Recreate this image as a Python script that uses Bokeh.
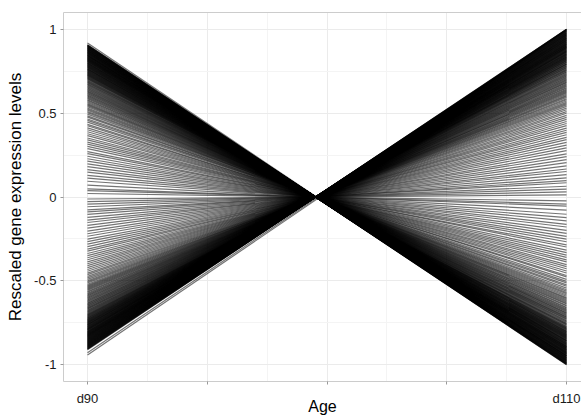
from bokeh.plotting import figure
from bokeh.models import FixedTicker, Range1d, LinearAxis
from bokeh.embed import file_html
from bokeh.resources import INLINE

# Age points (x positions) and axis ticks
age_values = [90, 110]
x_ticks = [90, 95, 100, 105, 110]
x_tick_labels = ["d90", "", "", "", "d110"]
y_ticks = [-1, -0.5, 0, 0.5, 1]
y_tick_labels = ["-1", "-0.5", "0", "0.5", "1"]

# Genes that decrease from d90 to d110 (positive at d90)
down_d90 = [0.918, 0.908, 0.906, 0.905, 0.903, 0.901, 0.899, 0.897, 0.896, 0.894, 0.892, 0.890, 0.888, 0.886, 0.885,
            0.883, 0.881, 0.879, 0.877, 0.875, 0.873, 0.872, 0.870, 0.868, 0.866, 0.864, 0.862, 0.861, 0.859,
            0.857, 0.855, 0.853, 0.851, 0.849, 0.847, 0.845, 0.844, 0.842, 0.840, 0.838, 0.836, 0.834, 0.832,
            0.830, 0.828, 0.826, 0.824, 0.822, 0.820, 0.818, 0.816, 0.814, 0.812, 0.810, 0.808, 0.806, 0.804,
            0.801, 0.799, 0.797, 0.795, 0.793, 0.790, 0.788, 0.786, 0.784, 0.781, 0.779, 0.777, 0.775, 0.772,
            0.770, 0.767, 0.765, 0.763, 0.760, 0.758, 0.755, 0.753, 0.750, 0.747, 0.745, 0.742, 0.739, 0.737,
            0.734, 0.731, 0.728, 0.726, 0.723, 0.720, 0.717, 0.714, 0.711, 0.708, 0.705, 0.702,
            0.697, 0.693, 0.689, 0.685, 0.681, 0.676, 0.672, 0.668, 0.663, 0.659, 0.654, 0.650, 0.645, 0.641,
            0.636, 0.631, 0.627, 0.622, 0.617, 0.612, 0.607, 0.602, 0.597, 0.591, 0.586, 0.580, 0.575, 0.569,
            0.563, 0.557, 0.551, 0.545, 0.538, 0.531, 0.524, 0.517, 0.510, 0.503,
            0.494, 0.484, 0.476, 0.465, 0.457, 0.446, 0.433, 0.425, 0.412, 0.401, 0.389, 0.377, 0.366, 0.352,
            0.341, 0.327, 0.315, 0.302, 0.288, 0.271, 0.259, 0.243, 0.228, 0.214, 0.197, 0.181, 0.163, 0.148,
            0.129, 0.112, 0.094, 0.071, 0.049, 0.038, 0.021]
down_d110 = [-1.000, -0.999, -0.997, -0.996, -0.993, -0.991, -0.989, -0.987, -0.986, -0.983, -0.981, -0.979, -0.977, -0.975, -0.974,
             -0.971, -0.969, -0.967, -0.965, -0.963, -0.960, -0.959, -0.957, -0.955, -0.953, -0.950, -0.948, -0.947, -0.945,
             -0.943, -0.941, -0.938, -0.936, -0.934, -0.932, -0.930, -0.928, -0.926, -0.924, -0.922, -0.920, -0.917, -0.915,
             -0.913, -0.911, -0.909, -0.906, -0.904, -0.902, -0.900, -0.898, -0.895, -0.893, -0.891, -0.889, -0.887, -0.884,
             -0.881, -0.879, -0.877, -0.875, -0.872, -0.869, -0.867, -0.865, -0.862, -0.859, -0.857, -0.855, -0.853, -0.849,
             -0.847, -0.844, -0.842, -0.839, -0.836, -0.834, -0.831, -0.828, -0.825, -0.822, -0.820, -0.816, -0.813, -0.811,
             -0.807, -0.804, -0.801, -0.799, -0.795, -0.792, -0.789, -0.785, -0.782, -0.779, -0.776, -0.772,
             -0.767, -0.762, -0.758, -0.754, -0.749, -0.744, -0.739, -0.735, -0.729, -0.725, -0.719, -0.715, -0.710, -0.705,
             -0.700, -0.694, -0.690, -0.684, -0.679, -0.673, -0.668, -0.662, -0.657, -0.650, -0.645, -0.638, -0.633, -0.626,
             -0.619, -0.613, -0.606, -0.600, -0.592, -0.584, -0.576, -0.569, -0.561, -0.553,
             -0.543, -0.532, -0.524, -0.512, -0.503, -0.491, -0.476, -0.468, -0.453, -0.441, -0.428, -0.415, -0.403, -0.387,
             -0.375, -0.360, -0.347, -0.332, -0.317, -0.298, -0.285, -0.267, -0.251, -0.235, -0.217, -0.199, -0.179, -0.163,
             -0.142, -0.123, -0.103, -0.078, -0.054, -0.042, -0.023]

# Genes that increase from d90 to d110 (negative at d90)
up_d90 = [-0.012, -0.027, -0.043, -0.058, -0.077, -0.089, -0.104, -0.121, -0.138, -0.152, -0.169, -0.186, -0.203,
          -0.219, -0.234, -0.251, -0.266, -0.281, -0.296, -0.311, -0.323, -0.337, -0.350, -0.362, -0.374, -0.387,
          -0.398, -0.409, -0.421, -0.432, -0.443, -0.454, -0.463, -0.473, -0.482, -0.491,
          -0.499, -0.506, -0.513, -0.520, -0.527, -0.533, -0.539, -0.545, -0.551, -0.557, -0.563, -0.568, -0.574,
          -0.579, -0.584, -0.589, -0.594, -0.599, -0.604, -0.609, -0.614, -0.619, -0.623, -0.628, -0.633, -0.637,
          -0.642, -0.646, -0.651, -0.655, -0.660, -0.664, -0.668, -0.673, -0.677, -0.681, -0.685, -0.689, -0.693, -0.697,
          -0.701, -0.704, -0.707, -0.710, -0.713, -0.716, -0.719, -0.721, -0.724, -0.727, -0.730, -0.732, -0.735,
          -0.738, -0.740, -0.743, -0.745, -0.748, -0.750, -0.753, -0.755, -0.758, -0.760, -0.762, -0.765, -0.767,
          -0.769, -0.772, -0.774, -0.776, -0.778, -0.781, -0.783, -0.785, -0.787, -0.789, -0.791, -0.793, -0.795,
          -0.797, -0.800, -0.802, -0.804, -0.806, -0.808, -0.810, -0.812, -0.814, -0.816, -0.818, -0.820, -0.822,
          -0.824, -0.826, -0.828, -0.830, -0.832, -0.834, -0.836, -0.838, -0.840, -0.842, -0.844, -0.846, -0.848,
          -0.850, -0.852, -0.854, -0.856, -0.858, -0.860, -0.862, -0.864, -0.866, -0.868, -0.870, -0.872, -0.874,
          -0.876, -0.878, -0.880, -0.882, -0.884, -0.886, -0.888, -0.890, -0.892, -0.894, -0.896, -0.898, -0.900,
          -0.902, -0.904, -0.906, -0.908, -0.910, -0.928, -0.942]
up_d110 = [0.013, 0.030, 0.047, 0.064, 0.085, 0.098, 0.114, 0.133, 0.152, 0.167, 0.186, 0.205, 0.223,
           0.241, 0.257, 0.276, 0.293, 0.309, 0.326, 0.342, 0.355, 0.371, 0.385, 0.398, 0.411, 0.426,
           0.438, 0.450, 0.463, 0.475, 0.487, 0.499, 0.509, 0.520, 0.530, 0.540,
           0.549, 0.557, 0.564, 0.572, 0.580, 0.586, 0.593, 0.600, 0.606, 0.613, 0.619, 0.625, 0.631,
           0.637, 0.642, 0.648, 0.653, 0.659, 0.664, 0.670, 0.675, 0.681, 0.685, 0.691, 0.696, 0.701,
           0.706, 0.711, 0.716, 0.721, 0.726, 0.730, 0.735, 0.740, 0.745, 0.749, 0.754, 0.758, 0.762, 0.767,
           0.771, 0.774, 0.778, 0.781, 0.784, 0.788, 0.791, 0.793, 0.796, 0.800, 0.803, 0.805, 0.809,
           0.812, 0.814, 0.817, 0.820, 0.823, 0.825, 0.828, 0.831, 0.834, 0.836, 0.838, 0.842, 0.844,
           0.846, 0.849, 0.851, 0.854, 0.856, 0.859, 0.861, 0.864, 0.866, 0.868, 0.870, 0.872, 0.875,
           0.877, 0.880, 0.882, 0.884, 0.887, 0.889, 0.891, 0.893, 0.895, 0.898, 0.900, 0.902, 0.904,
           0.906, 0.909, 0.911, 0.913, 0.915, 0.917, 0.920, 0.922, 0.924, 0.926, 0.928, 0.931, 0.933,
           0.935, 0.937, 0.939, 0.942, 0.944, 0.946, 0.948, 0.950, 0.953, 0.955, 0.957, 0.959, 0.961,
           0.964, 0.966, 0.968, 0.970, 0.972, 0.975, 0.977, 0.979, 0.981, 0.983, 0.986, 0.988, 0.990,
           0.992, 0.994, 0.997, 0.999, 1.000, 1.000, 0.998]

d90_all = down_d90 + up_d90
d110_all = down_d110 + up_d110
xs = [list(age_values) for _ in d90_all]
ys = [[a, b] for a, b in zip(d90_all, d110_all)]

FONT = "Liberation Sans"
BORDER = "#cccccc"

p = figure(width=581, height=418, output_backend="svg", toolbar_location=None,
           x_range=Range1d(88.998, 110.626), y_range=Range1d(-1.1, 1.1),
           min_border_left=63, min_border_right=0, min_border_top=12, min_border_bottom=37)

p.multi_line(xs=xs, ys=ys, line_color="black", line_alpha=0.55, line_width=1.2)

p.background_fill_color = "white"
p.border_fill_color = "white"
p.outline_line_color = None

for ax in (p.xaxis[0], p.yaxis[0]):
    ax.axis_line_color = BORDER
    ax.axis_line_width = 1
    ax.major_tick_line_color = "#999999"
    ax.major_tick_out = 3
    ax.major_tick_in = 0
    ax.minor_tick_line_color = None
    ax.major_label_text_font = FONT
    ax.major_label_text_font_size = "13px"
    ax.major_label_text_color = "#1a1a1a"
    ax.axis_label_text_font = FONT
    ax.axis_label_text_font_style = "normal"
    ax.axis_label_text_color = "black"

p.xaxis[0].ticker = FixedTicker(ticks=x_ticks, minor_ticks=[92.5, 97.5, 102.5, 107.5])
p.xaxis[0].major_label_overrides = {t: l for t, l in zip(x_ticks, x_tick_labels)}
p.xaxis[0].major_label_standoff = 5
p.xaxis[0].axis_label = "Age"
p.xaxis[0].axis_label_text_font_size = "16px"
p.xaxis[0].axis_label_standoff = -11

p.yaxis[0].ticker = FixedTicker(ticks=y_ticks, minor_ticks=[-0.75, -0.25, 0.25, 0.75])
p.yaxis[0].major_label_overrides = {t: l for t, l in zip(y_ticks, y_tick_labels)}
p.yaxis[0].major_label_standoff = 3
p.yaxis[0].axis_label = "Rescaled gene expression levels"
p.yaxis[0].axis_label_text_font_size = "17px"
p.yaxis[0].axis_label_standoff = 6

# top border of the panel
top_axis = LinearAxis(ticker=FixedTicker(ticks=[]), axis_line_color=BORDER, axis_line_width=1,
                      major_tick_line_color=None, minor_tick_line_color=None,
                      major_label_text_font_size="0px", major_tick_out=0, major_tick_in=0,
                      major_label_standoff=0)
p.add_layout(top_axis, "above")

for g in (p.xgrid[0], p.ygrid[0]):
    g.grid_line_color = "#ebebeb"
    g.grid_line_width = 1
    g.minor_grid_line_color = "#f4f4f4"
    g.minor_grid_line_width = 1

open("out.html", "w").write(file_html(p, INLINE))
